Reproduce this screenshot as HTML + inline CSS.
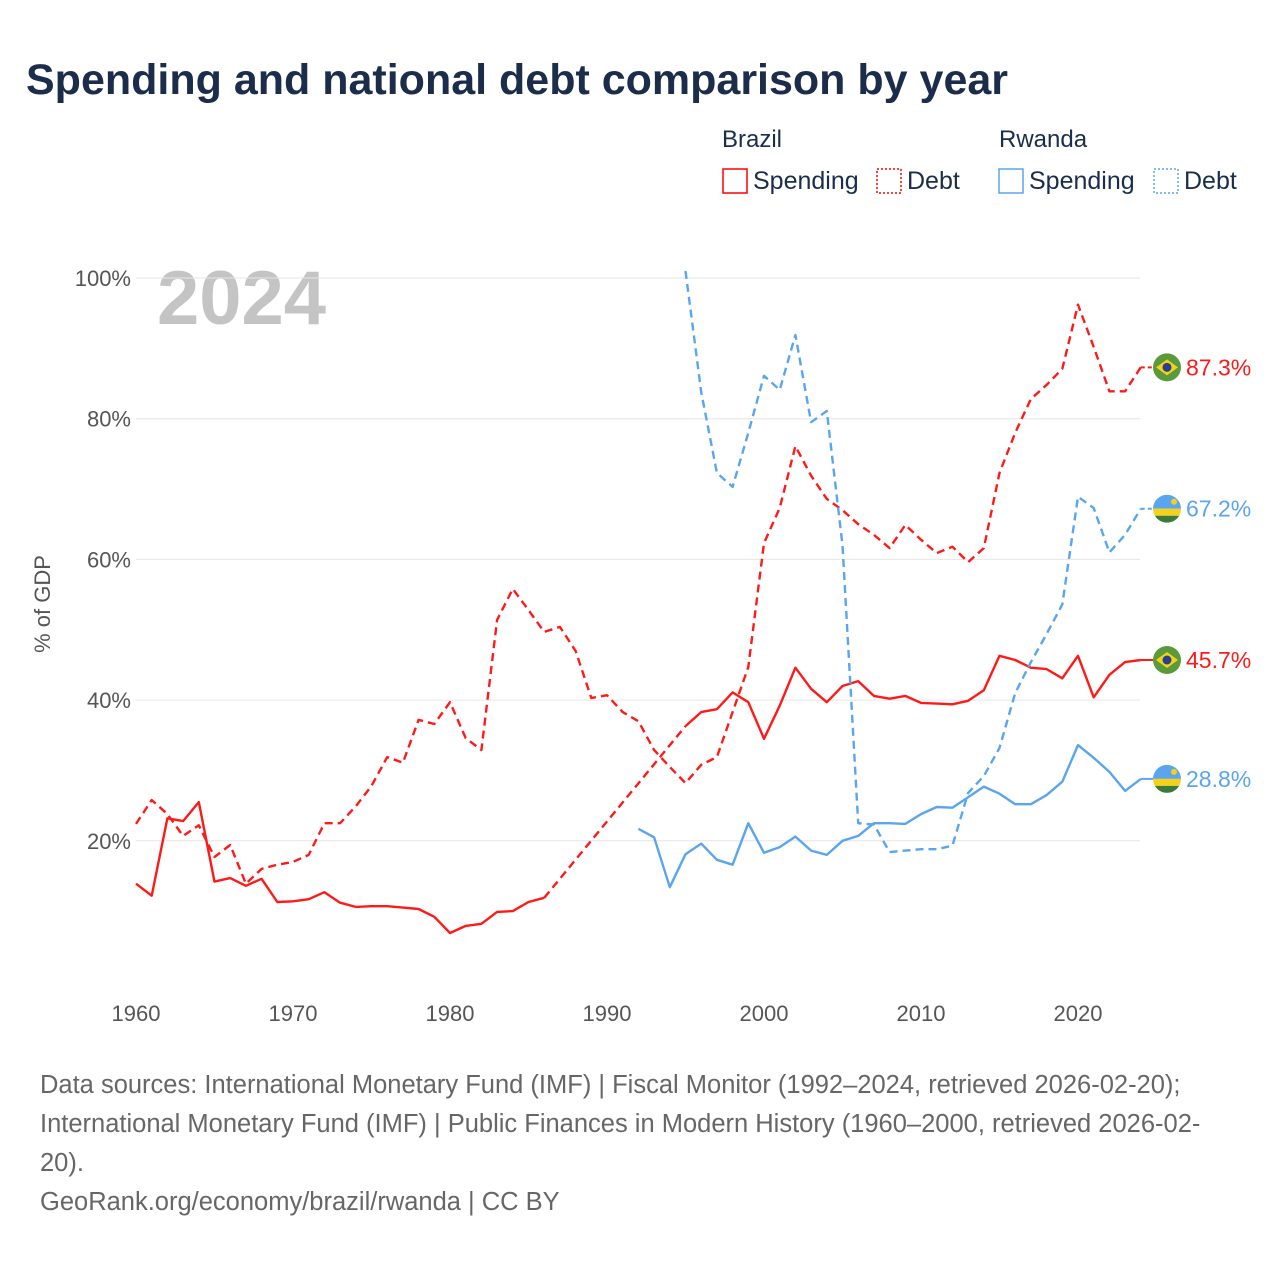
<!DOCTYPE html>
<html><head><meta charset="utf-8"><style>
body{margin:0;background:#fff;width:1280px;height:1280px;overflow:hidden;font-family:"Liberation Sans",sans-serif}
</style></head><body>
<svg id="chart" width="1280" height="1280" xmlns="http://www.w3.org/2000/svg" font-family="Liberation Sans, sans-serif">
<text x="26" y="94" font-size="43" font-weight="bold" fill="#1b2d4b" textLength="982">Spending and national debt comparison by year</text>
<g>
<text x="722" y="147" font-size="24" fill="#1b2d4b">Brazil</text>
<text x="999" y="147" font-size="24" fill="#1b2d4b">Rwanda</text>
<rect x="723" y="169" width="24" height="24" fill="none" stroke="#f00" stroke-width="1.5"/>
<text x="753" y="189" font-size="25" fill="#1b2d4b">Spending</text>
<rect x="877" y="169" width="24" height="24" fill="none" stroke="#f00" stroke-width="1.5" stroke-dasharray="2,2"/>
<text x="907" y="189" font-size="25" fill="#1b2d4b">Debt</text>
<rect x="999" y="169" width="24" height="24" fill="none" stroke="#5aa5ee" stroke-width="1.5"/>
<text x="1029" y="189" font-size="25" fill="#1b2d4b">Spending</text>
<rect x="1154" y="169" width="24" height="24" fill="none" stroke="#5aa5ee" stroke-width="1.5" stroke-dasharray="2,2"/>
<text x="1184" y="189" font-size="25" fill="#1b2d4b">Debt</text>
</g>
<text x="157" y="324" font-size="76" font-weight="bold" fill="#c4c4c4">2024</text>
<text transform="translate(50,604) rotate(-90)" text-anchor="middle" font-size="22" fill="#555">% of GDP</text>
<g id="grid"></g><g id="ticks"></g><g id="lines"></g><g id="ends"></g>
<g font-size="25.5" fill="#666">
<text x="40" y="1093">Data sources: International Monetary Fund (IMF) | Fiscal Monitor (1992–2024, retrieved 2026-02-20);</text>
<text x="40" y="1132">International Monetary Fund (IMF) | Public Finances in Modern History (1960–2000, retrieved 2026-02-</text>
<text x="40" y="1171">20).</text>
<text x="40" y="1210">GeoRank.org/economy/brazil/rwanda | CC BY</text>
</g>
</svg>
<script>
const yTicks=[20,40,60,80,100];
const xTicks=[1960,1970,1980,1990,2000,2010,2020];
const brazilSpendingYears1=[1960,1961,1962,1963,1964,1965,1966,1967,1968,1969,1970,1971,1972,1973,1974,1975,1976,1977,1978,1979,1980,1981,1982,1983,1984,1985,1986];
const brazilSpending1=[13.9,12.2,23.2,22.8,25.5,14.2,14.7,13.6,14.6,11.3,11.4,11.7,12.7,11.2,10.6,10.7,10.7,10.5,10.3,9.2,6.9,7.9,8.2,9.9,10.0,11.3,11.9];
const brazilSpendingYears2=[1995,1996,1997,1998,1999,2000,2001,2002,2003,2004,2005,2006,2007,2008,2009,2010,2011,2012,2013,2014,2015,2016,2017,2018,2019,2020,2021,2022,2023,2024];
const brazilSpending2=[36.3,38.3,38.7,41.1,39.7,34.5,39.2,44.6,41.6,39.7,42.0,42.7,40.6,40.2,40.6,39.6,39.5,39.4,39.9,41.4,46.3,45.7,44.6,44.4,43.1,46.3,40.4,43.6,45.4,45.7];
const brazilDebtStart=1960;
const brazilDebt=[22.4,25.8,23.8,20.7,22.2,17.7,19.4,13.9,16.0,16.6,17.0,18.0,22.5,22.5,24.9,27.8,31.9,31.1,37.2,36.6,39.7,34.6,32.9,51.4,55.8,52.8,49.7,50.4,47.0,40.3,40.7,38.3,37.0,32.9,30.5,28.2,30.8,31.9,38.3,44.7,62.3,67.3,76.1,71.9,68.6,67.0,65.0,63.5,61.6,64.9,62.8,60.9,61.8,59.6,61.6,72.3,78.0,82.8,84.8,87.1,96.2,90.2,83.9,83.9,87.3];
const rwandaSpendingStart=1992;
const rwandaSpending=[21.7,20.5,13.4,18.1,19.6,17.3,16.6,22.5,18.3,19.1,20.6,18.6,18.0,20.0,20.7,22.5,22.5,22.4,23.8,24.8,24.7,26.2,27.7,26.7,25.2,25.2,26.5,28.4,33.6,31.8,29.8,27.1,28.8];
const rwandaDebtStart=1995;
const rwandaDebt=[101,83.8,72.3,70.3,78.0,86.1,84.1,91.9,79.5,81.1,62,22.5,22.3,18.4,18.6,18.8,18.8,19.3,26.8,29.2,33.2,41.0,45.4,49.4,53.6,68.9,67.3,61.0,63.5,67.2];
const endLabels=["87.3%","67.2%","45.7%","28.8%"];

const NS="http://www.w3.org/2000/svg";
const X=y=>136+(y-1960)*15.7;
const Y=v=>981.5-v*7.035;
function mk(tag,attrs,parent){const e=document.createElementNS(NS,tag);for(const k in attrs)e.setAttribute(k,attrs[k]);document.getElementById(parent).appendChild(e);return e;}
yTicks.forEach(t=>{
 const l=mk('line',{x1:136,x2:1140,y1:Y(t),y2:Y(t),stroke:'#e6e6e6','stroke-width':1},'grid');
 
 
 const tx=mk('text',{x:131,y:Y(t)+8,'text-anchor':'end','font-size':22,fill:'#555'},'ticks');
 tx.textContent=t+'%';
 
 
});
xTicks.forEach(t=>{
 const tx=mk('text',{x:X(t),y:1021,'text-anchor':'middle','font-size':22,fill:'#555'},'ticks');
 tx.textContent=t;
 
 
});
function pts(years,vals){return years.map((y,i)=>X(y).toFixed(1)+','+Y(vals[i]).toFixed(1)).join(' ');}
function seq(start,n){return Array.from({length:n},(_,i)=>start+i);}
function line(p,color,dash,name){
 const e=mk('polyline',{points:p,fill:'none',stroke:color,'stroke-width':2.4,'stroke-linejoin':'round'},'lines');
 if(dash)e.setAttribute('stroke-dasharray',dash);
 
 
}
const RED='#ff1a1a',BLUE='#5aa5ee';
line(pts(brazilSpendingYears1,brazilSpending1),RED,null,'brazil-spending-line-early');
line(pts([brazilSpendingYears1[brazilSpendingYears1.length-1],brazilSpendingYears2[0]],[brazilSpending1[brazilSpending1.length-1],brazilSpending2[0]]),RED,'8,5','brazil-spending-gap');
line(pts(brazilSpendingYears2,brazilSpending2),RED,null,'brazil-spending-line');
line(pts(seq(brazilDebtStart,brazilDebt.length),brazilDebt),RED,'8,5','brazil-debt-line');
line(pts(seq(rwandaSpendingStart,rwandaSpending.length),rwandaSpending),BLUE,null,'rwanda-spending-line');
line(pts(seq(rwandaDebtStart,rwandaDebt.length),rwandaDebt),BLUE,'8,5','rwanda-debt-line');
const ends=[[brazilDebt[brazilDebt.length-1],RED,'br',1],[rwandaDebt[rwandaDebt.length-1],BLUE,'rw',1],[brazilSpending2[brazilSpending2.length-1],RED,'br',0],[rwandaSpending[rwandaSpending.length-1],BLUE,'rw',0]];
ends.forEach((d,i)=>{
 const y=Y(d[0]);
 const s=mk('line',{x1:X(2024),x2:1153,y1:y,y2:y,stroke:d[1],'stroke-width':2,'stroke-dasharray':d[3]?'4,3':''},'ends');
 
 
 const g=mk('g',{transform:'translate(1167,'+y+')'},'ends');
 
 
 if(d[2]=='br'){
  g.innerHTML='<circle r="14" fill="#5a9a3a"/><polygon points="-11,0 0,-8 11,0 0,8" fill="#f3d21a"/><circle r="4.5" fill="#2a3f8f"/>';
 }else{
  g.innerHTML='<clipPath id="c'+i+'"><circle r="14"/></clipPath><g clip-path="url(#c'+i+')"><rect x="-14" y="-14" width="28" height="14" fill="#5aa5ee"/><rect x="-14" y="0" width="28" height="7" fill="#f5d21a"/><rect x="-14" y="7" width="28" height="7" fill="#3a7a3a"/></g><circle cx="7" cy="-7" r="3" fill="#f5d21a"/>';
 }
 const t=mk('text',{x:1186,y:y+8,'font-size':23,fill:d[1]},'ends');
 t.textContent=endLabels[i];
 
 
});
</script>
</body></html>
